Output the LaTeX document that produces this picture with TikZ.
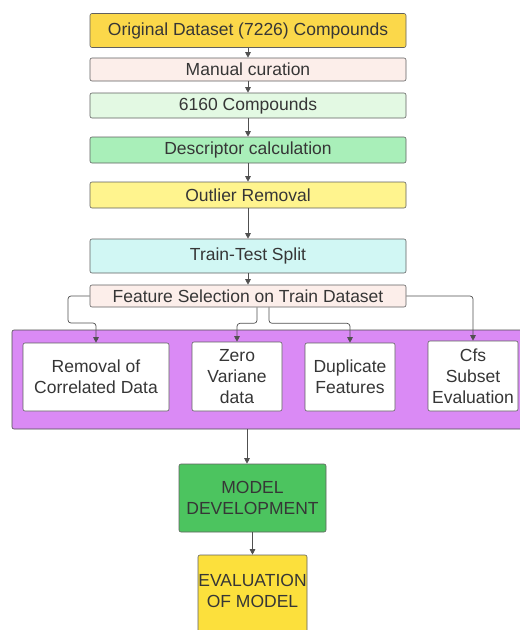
\documentclass[tikz,border=0pt]{standalone}
\usepackage{fontspec}
\setmainfont{Liberation Sans}
\usetikzlibrary{arrows.meta}
\definecolor{txt}{HTML}{363636}
\definecolor{edge}{HTML}{505050}
\definecolor{cTop}{HTML}{FBD84A}
\definecolor{cPink}{HTML}{FCEEEA}
\definecolor{cLGreen}{HTML}{E3F9E3}
\definecolor{cGreen}{HTML}{A9EFB9}
\definecolor{cYel}{HTML}{FFF48E}
\definecolor{cCyan}{HTML}{D1F7F4}
\definecolor{cPurple}{HTML}{DA8AF5}
\definecolor{cModel}{HTML}{4CC45F}
\definecolor{cEval}{HTML}{FCE03C}
\tikzset{
  box/.style={draw=gray!75!black, line width=0.6pt, rounded corners=2pt,
    text=txt, font=\fontsize{17.5}{21}\selectfont, align=center, inner sep=0pt},
  wide/.style={box, minimum width=316pt},
  arr/.style={draw=edge, line width=0.7pt, -{Triangle[width=5.5pt,length=5.5pt]}},
}
\begin{document}
\begin{tikzpicture}[x=1pt,y=-1pt]
\useasboundingbox (0,0) rectangle (520,630);
\node[wide, fill=cTop, minimum height=34pt] (orig) at (248,30.5) {Original Dataset (7226) Compounds};
\node[wide, fill=cPink, minimum height=23pt] (man) at (248,69.5) {Manual curation};
\node[wide, fill=cLGreen, minimum height=25pt] (c6160) at (248,105.5) {6160 Compounds};
\node[wide, fill=cGreen, minimum height=26pt] (desc) at (248,150) {Descriptor calculation};
\node[wide, fill=cYel, minimum height=26pt] (out) at (248,195) {Outlier Removal};
\node[wide, fill=cCyan, minimum height=34pt] (tts) at (248,256) {Train-Test Split};
\node[wide, fill=cPink, minimum height=22pt] (fs) at (248,296) {Feature Selection on Train Dataset};
\node[draw=gray!60!black, line width=0.6pt, rounded corners=2pt, fill=cPurple,
  minimum width=512pt, minimum height=99pt, inner sep=0pt] (band) at (268,379.5) {};
\node[box, fill=white, minimum width=146pt, minimum height=68pt] (rem) at (96,377) {Removal of\\Correlated Data};
\node[box, fill=white, minimum width=90pt, minimum height=69pt] (zero) at (237,376.5) {Zero\\Variane\\data};
\node[box, fill=white, minimum width=90pt, minimum height=68pt] (dup) at (350,377) {Duplicate\\Features};
\node[box, fill=white, minimum width=90pt, minimum height=70pt] (cfs) at (473,376) {Cfs\\Subset\\Evaluation};
\node[box, fill=cModel, minimum width=147pt, minimum height=68pt] (model) at (252.5,498) {MODEL\\DEVELOPMENT};
\node[box, fill=cEval, minimum width=109pt, minimum height=90pt, text depth=0pt] (eval) at (252.5,600) {EVALUATION\\OF MODEL\\[-2pt]};
\draw[arr] (orig) -- (man);
\draw[arr] (man) -- (c6160);
\draw[arr] (c6160) -- (desc);
\draw[arr] (desc) -- (out);
\draw[arr] (out) -- (tts);
\draw[arr] (tts) -- (fs);
\coordinate (lft) at (68,323);
\draw[arr, rounded corners=3pt] (fs.west) -| (lft) -| (rem.north);
\draw[arr, rounded corners=3pt] ([xshift=9pt]fs.south) -- ++(0,16) -| (zero.north);
\draw[arr, rounded corners=3pt] ([xshift=21pt]fs.south) -- ++(0,16) -| (dup.north);
\draw[arr, rounded corners=3pt] (fs.east) -| (cfs.north);
\draw[arr] ([xshift=-5.5pt]model.north |- band.south) -- ([xshift=-5.5pt]model.north);
\draw[arr] (model) -- (eval);
\end{tikzpicture}
\end{document}
